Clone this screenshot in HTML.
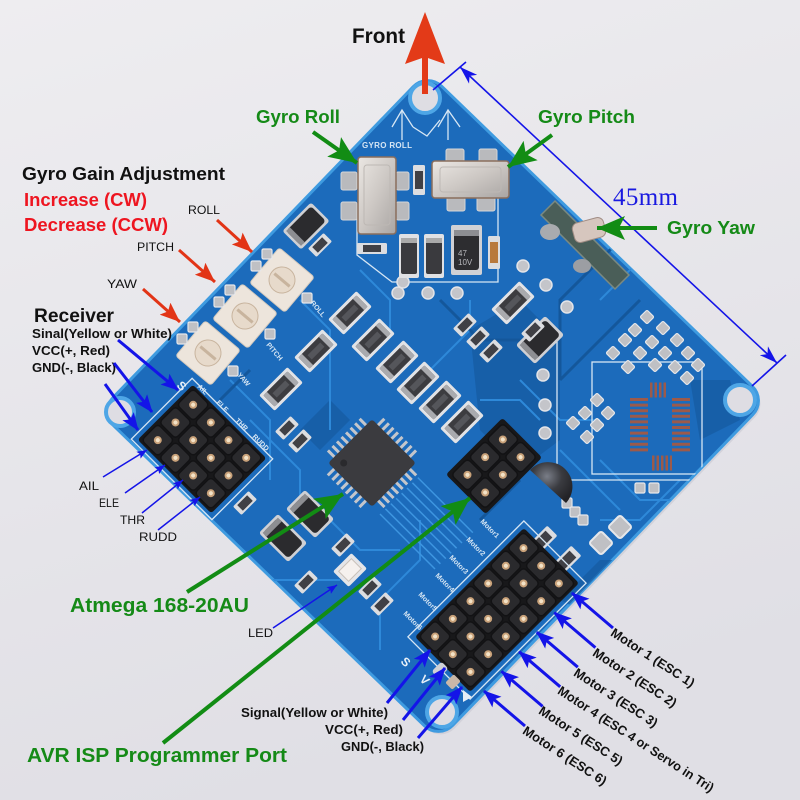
<!DOCTYPE html>
<html><head><meta charset="utf-8">
<style>html,body{margin:0;padding:0;background:#e8e7eb;}svg{display:block}</style>
</head><body>
<svg width="800" height="800" viewBox="0 0 800 800" xmlns="http://www.w3.org/2000/svg">
<defs>
<linearGradient id="bg" x1="0" y1="0" x2="0.3" y2="1"><stop offset="0" stop-color="#eeedf0"/><stop offset="1" stop-color="#e0dfe5"/></linearGradient>
<linearGradient id="silver" x1="0" y1="0" x2="1" y2="1"><stop offset="0" stop-color="#ebe7e3"/><stop offset="0.5" stop-color="#cdc8c4"/><stop offset="1" stop-color="#a9a5a3"/></linearGradient>
<radialGradient id="reg" cx="0.4" cy="0.35" r="0.7"><stop offset="0" stop-color="#7a7e88"/><stop offset="0.5" stop-color="#3a3b40"/><stop offset="1" stop-color="#222226"/></radialGradient>
<clipPath id="bclip"><rect x="-236" y="-236" width="472" height="472" rx="20" transform="translate(433,406) rotate(44)"/></clipPath>
<marker id="bh" viewBox="0 0 18 14" refX="17" refY="7" markerWidth="18" markerHeight="14" orient="auto" markerUnits="userSpaceOnUse"><path d="M0,0 L18,7 L0,14 L4,7z" fill="#1414e8"/></marker>
<marker id="bs" viewBox="0 0 10 8" refX="10" refY="4" markerWidth="10" markerHeight="8" orient="auto" markerUnits="userSpaceOnUse"><path d="M0,0 L10,4 L0,8 L2,4z" fill="#1414e8"/></marker>
<marker id="rh" viewBox="0 0 20 16" refX="20" refY="8" markerWidth="20" markerHeight="16" orient="auto" markerUnits="userSpaceOnUse"><path d="M0,0 L20,8 L0,16 L4,8z" fill="#e23416"/></marker>
<marker id="gh" viewBox="0 0 28 24" refX="28" refY="12" markerWidth="28" markerHeight="24" orient="auto" markerUnits="userSpaceOnUse"><path d="M0,0 L28,12 L0,24 L6,12z" fill="#128c14"/></marker>
<marker id="dh" viewBox="0 0 18 12" refX="18" refY="6" markerWidth="18" markerHeight="12" orient="auto-start-reverse" markerUnits="userSpaceOnUse"><path d="M0,0 L18,6 L0,12 L5,6z" fill="#1414e8"/></marker>
<g id="pin"><rect x="-11.5" y="-11.5" width="23" height="23" rx="4" fill="#2a2a2d" stroke="#121214" stroke-width="1.5"/><circle r="4" fill="#c9a27a"/><circle r="2" fill="#f3e3c8"/></g>
<g id="smd"><rect x="-20" y="-11" width="40" height="22" rx="2" fill="#e2e3e6"/><rect x="-17" y="-8" width="34" height="16" rx="2" fill="#3c3c40"/><rect x="-17" y="-8" width="5" height="16" fill="#a9aaae"/><rect x="12" y="-8" width="5" height="16" fill="#a9aaae"/><rect x="-9" y="-3" width="18" height="6" fill="#55565b"/></g>
<g id="tant"><rect x="-23" y="-15" width="46" height="30" rx="3" fill="#cfd0d4"/><rect x="-20" y="-12" width="40" height="24" rx="4" fill="#2b2b2e"/><rect x="-20" y="-12" width="6" height="24" fill="#8d8e92"/></g>
<g id="res"><rect x="-11" y="-6" width="22" height="12" rx="1.5" fill="#dcdde0"/><rect x="-7" y="-4" width="14" height="8" fill="#404045"/></g>
<g id="pad"><rect x="-5" y="-5" width="10" height="10" rx="1.5" fill="#bfc0c4" stroke="#e6e7ea" stroke-width="1.2"/></g>
<g id="via"><circle r="6" fill="#c4c5ca" stroke="#e3e4e8" stroke-width="1.5"/></g>
</defs>
<rect width="800" height="800" fill="url(#bg)"/>

<!-- board -->
<rect x="-236" y="-236" width="472" height="472" rx="20" transform="translate(435,409) rotate(44)" fill="#c8c8d2" opacity="0.6"/>
<rect x="-236" y="-236" width="472" height="472" rx="20" transform="translate(433,406) rotate(44)" fill="#1c6bbb" stroke="#3f9be0" stroke-width="3"/>

<g clip-path="url(#bclip)">
 <!-- darker copper areas -->
 <g fill="#155a9f" opacity="0.7">
  <polygon points="470,330 520,300 560,340 560,440 520,470 480,430"/>
  <polygon points="690,380 730,380 740,420 700,440"/>
  <polygon points="560,600 600,560 640,560 600,620"/>
  <polygon points="300,430 330,400 350,420 320,450"/>
 </g>
 <!-- traces -->
 <g fill="none" stroke="#2e89d9" stroke-width="2">
  <path d="M300,300 L330,330 L330,430"/>
  <path d="M470,300 L470,330 L430,370"/>
  <path d="M520,380 L560,420 L600,420"/>
  <path d="M250,420 L300,470 L300,500"/>
  <path d="M420,520 L420,560 L380,600 L380,650"/>
  <path d="M600,300 L640,260"/>
  <path d="M560,450 L620,510"/>
  <path d="M230,380 L270,420 L270,480"/>
  <path d="M330,520 L360,550 L400,550"/>
  <path d="M480,400 L520,400 L540,420"/>
  <path d="M200,520 L260,580 L340,580"/>
  <path d="M680,480 L640,520 L600,520"/>
  <path d="M360,270 L390,300 L390,330"/>
  <path d="M600,460 L640,500 L680,500"/>
 </g>
 <g fill="none" stroke="#14579b" stroke-width="3">
  <path d="M440,300 L480,340 L520,340"/>
  <path d="M560,380 L600,340 L640,300"/>
  <path d="M480,520 L520,480"/>
  <path d="M220,400 L250,370"/>
  <path d="M560,380 L560,300 L620,240"/>
 </g>
 <!-- bundle of traces from chip -->
 <g stroke="#3d95e0" stroke-width="1.5">
  <line x1="380" y1="514" x2="435" y2="569"/><line x1="385.4" y1="508.8" x2="440.4" y2="563.8"/>
  <line x1="390.8" y1="503.6" x2="445.8" y2="558.6"/><line x1="396.2" y1="498.4" x2="451.2" y2="553.4"/>
  <line x1="401.6" y1="493.2" x2="456.6" y2="548.2"/><line x1="407" y1="488" x2="462" y2="543"/>
  <line x1="412.4" y1="482.8" x2="467.4" y2="537.8"/><line x1="417.8" y1="477.6" x2="472.8" y2="532.6"/>
 </g>
 <!-- silkscreen -->
 <g fill="none" stroke="#d6e6f4" stroke-width="1.3">
  <polyline points="392,127 402,110 413,127"/><line x1="402" y1="110" x2="402" y2="140"/>
  <polyline points="438,127 448,110 460,127"/><line x1="448" y1="110" x2="448" y2="140"/>
  <polyline points="413,127 427,136 440,120"/>
  <polyline points="357,215 357,255 392,282 498,282 498,190"/>
  <rect x="592" y="362" width="110" height="112"/>
  <polyline points="557,330 557,480 700,480"/>
 </g>
 <text x="362" y="148" font-family="Liberation Sans, sans-serif" font-size="8" font-weight="bold" fill="#d6e6f4" textLength="50">GYRO ROLL</text>
 <!-- vias -->
 <use href="#via" x="398" y="293"/><use href="#via" x="428" y="293"/><use href="#via" x="457" y="293"/>
 <use href="#via" x="523" y="266"/><use href="#via" x="546" y="285"/><use href="#via" x="567" y="307"/>
 <use href="#via" x="543" y="375"/><use href="#via" x="545" y="405"/><use href="#via" x="545" y="433"/>
 <use href="#via" x="403" y="282"/>
</g>

<!-- mounting holes -->
<g fill="#dedde3" stroke="#4ea6e6" stroke-width="4">
 <circle cx="425" cy="98" r="15"/>
 <circle cx="740" cy="400" r="15"/>
 <circle cx="442" cy="712" r="15"/>
 <circle cx="120" cy="412" r="14"/>
</g>

<!-- gyro roll -->
<g fill="#b9babd" stroke="#d5d6d8" stroke-width="1">
 <rect x="341" y="172" width="16" height="18" rx="2"/><rect x="341" y="202" width="16" height="18" rx="2"/>
 <rect x="396" y="172" width="13" height="18" rx="2"/><rect x="396" y="202" width="13" height="18" rx="2"/>
</g>
<rect x="358" y="157" width="38" height="77" rx="3" fill="url(#silver)" stroke="#8a6e5c" stroke-width="1.5"/>
<rect x="364" y="165" width="26" height="60" rx="3" fill="none" stroke="#bdb8b4" stroke-width="1"/>
<!-- gyro pitch -->
<g fill="#b9babd" stroke="#d5d6d8" stroke-width="1">
 <rect x="446" y="149" width="18" height="14" rx="2"/><rect x="479" y="149" width="18" height="14" rx="2"/>
 <rect x="447" y="197" width="18" height="14" rx="2"/><rect x="477" y="197" width="18" height="14" rx="2"/>
</g>
<rect x="432" y="161" width="77" height="37" rx="3" fill="url(#silver)" stroke="#8a6e5c" stroke-width="1.5"/>
<rect x="440" y="167" width="61" height="25" rx="3" fill="none" stroke="#bdb8b4" stroke-width="1"/>
<!-- small resistors near crystals -->
<rect x="413" y="165" width="12" height="30" rx="1.5" fill="#dcdde0"/><rect x="415" y="171" width="8" height="18" fill="#404045"/>
<rect x="357" y="243" width="30" height="11" rx="1.5" fill="#dcdde0"/><rect x="363" y="245" width="18" height="7" fill="#404045"/>
<rect x="488" y="236" width="12" height="33" rx="1.5" fill="#dcdde0"/><rect x="490" y="242" width="8" height="21" fill="#b8793c"/>

<!-- C473 pair -->
<rect x="399" y="234" width="20" height="44" rx="2" fill="#e0e1e4"/><rect x="401" y="238" width="16" height="36" rx="2" fill="#3a3a3e"/><rect x="401" y="238" width="16" height="5" fill="#aaa"/>
<rect x="424" y="234" width="20" height="44" rx="2" fill="#e0e1e4"/><rect x="426" y="238" width="16" height="36" rx="2" fill="#3a3a3e"/><rect x="426" y="238" width="16" height="5" fill="#aaa"/>
<!-- tantalum T2 vertical -->
<rect x="451" y="225" width="31" height="50" rx="2" fill="#d0d1d5"/><rect x="454" y="230" width="25" height="40" rx="3" fill="#2d2d30"/><rect x="454" y="230" width="25" height="6" fill="#8d8e92"/>
<text x="458" y="256" font-family="Liberation Sans, sans-serif" font-size="8" fill="#b8b8bc">47</text>
<text x="458" y="265" font-family="Liberation Sans, sans-serif" font-size="8" fill="#b8b8bc">10V</text>

<!-- tantalums rotated -->
<use href="#tant" transform="translate(306,226) rotate(-45) scale(0.88)"/>
<use href="#tant" transform="translate(540,340) rotate(-45) scale(0.9)"/>
<use href="#tant" transform="translate(283,538) rotate(45) scale(0.9)"/>
<use href="#tant" transform="translate(310,514) rotate(45) scale(0.9)"/>

<!-- smd caps -->
<use href="#smd" transform="translate(350,313) rotate(-45)"/>
<use href="#smd" transform="translate(316,351) rotate(-45)"/>
<use href="#smd" transform="translate(281,389) rotate(-45)"/>
<use href="#smd" transform="translate(373,340) rotate(-45)"/>
<use href="#smd" transform="translate(397,362) rotate(-45)"/>
<use href="#smd" transform="translate(418,383) rotate(-45)"/>
<use href="#smd" transform="translate(440,402) rotate(-45)"/>
<use href="#smd" transform="translate(462,422) rotate(-45)"/>
<use href="#smd" transform="translate(513,303) rotate(-45)"/>

<!-- small resistors -->
<use href="#res" transform="translate(320,245) rotate(-45)"/>
<use href="#res" transform="translate(465,325) rotate(-45)"/>
<use href="#res" transform="translate(478,338) rotate(-45)"/>
<use href="#res" transform="translate(491,351) rotate(-45)"/>
<use href="#res" transform="translate(287,428) rotate(-45)"/>
<use href="#res" transform="translate(300,441) rotate(-45)"/>
<use href="#res" transform="translate(245,503) rotate(-45)"/>
<use href="#res" transform="translate(343,545) rotate(-45)"/>
<use href="#res" transform="translate(306,582) rotate(-45)"/>
<use href="#res" transform="translate(370,588) rotate(-45)"/>
<use href="#res" transform="translate(382,604) rotate(-45)"/>
<use href="#res" transform="translate(543,540) rotate(-45) scale(1.2)"/>
<use href="#res" transform="translate(567,560) rotate(-45) scale(1.2)"/>
<use href="#res" transform="translate(533,330) rotate(-45)"/>
<!-- LED -->
<g transform="translate(350,570) rotate(-45)"><rect x="-13" y="-11" width="26" height="22" rx="2" fill="#e4e5e8"/><rect x="-9" y="-7" width="18" height="14" fill="#f5f1ee" stroke="#c8c0b8"/></g>

<!-- pots -->
<g transform="translate(282,280) rotate(40)"><rect x="-23" y="-23" width="46" height="46" rx="3" fill="#ede5dc" stroke="#d4cabe"/><circle r="13" fill="#e7dacb" stroke="#c8b49e"/><line x1="-10" y1="0" x2="10" y2="0" stroke="#c8b49e" stroke-width="3"/></g>
<g transform="translate(245,316) rotate(40)"><rect x="-23" y="-23" width="46" height="46" rx="3" fill="#ede5dc" stroke="#d4cabe"/><circle r="13" fill="#e7dacb" stroke="#c8b49e"/><line x1="-10" y1="0" x2="10" y2="0" stroke="#c8b49e" stroke-width="3"/></g>
<g transform="translate(208,353) rotate(40)"><rect x="-23" y="-23" width="46" height="46" rx="3" fill="#ede5dc" stroke="#d4cabe"/><circle r="13" fill="#e7dacb" stroke="#c8b49e"/><line x1="-10" y1="0" x2="10" y2="0" stroke="#c8b49e" stroke-width="3"/></g>
<use href="#pad" x="267" y="254"/><use href="#pad" x="256" y="266"/><use href="#pad" x="307" y="298"/>
<use href="#pad" x="230" y="290"/><use href="#pad" x="219" y="302"/><use href="#pad" x="270" y="334"/>
<use href="#pad" x="193" y="327"/><use href="#pad" x="182" y="339"/><use href="#pad" x="233" y="371"/>
<g font-family="Liberation Sans, sans-serif" font-size="7" font-weight="bold" fill="#d6e6f4">
 <text transform="translate(310,303) rotate(50)">ROLL</text>
 <text transform="translate(266,345) rotate(50)">PITCH</text>
 <text transform="translate(237,375) rotate(50)">YAW</text>
</g>

<!-- chip -->
<g transform="translate(372,463) rotate(45)">
 <g stroke="#c4c6cb" stroke-width="10" stroke-dasharray="3 3.4">
  <line x1="-24" y1="-35" x2="24" y2="-35"/><line x1="-24" y1="35" x2="24" y2="35"/>
  <line x1="-35" y1="-24" x2="-35" y2="24"/><line x1="35" y1="-24" x2="35" y2="24"/>
 </g>
 <rect x="-31" y="-31" width="62" height="62" rx="3" fill="#3b3b3f"/>
 <circle cx="-20" cy="20" r="3.5" fill="#2a2a2d"/>
</g>

<!-- right area U2 -->
<g stroke="#9c5a4a">
 <line x1="639" y1="398" x2="639" y2="454" stroke-width="18" stroke-dasharray="3 2.6"/>
 <line x1="681" y1="398" x2="681" y2="454" stroke-width="18" stroke-dasharray="3 2.6"/>
 <line x1="650" y1="390" x2="668" y2="390" stroke-width="15" stroke-dasharray="2.5 2"/>
 <line x1="652" y1="463" x2="672" y2="463" stroke-width="15" stroke-dasharray="2.5 2"/>
</g>
<g>
 <use href="#pad" transform="translate(647,317) rotate(45)"/><use href="#pad" transform="translate(635,330) rotate(45)"/><use href="#pad" transform="translate(625,340) rotate(45)"/><use href="#pad" transform="translate(613,353) rotate(45)"/>
 <use href="#pad" transform="translate(663,328) rotate(45)"/><use href="#pad" transform="translate(652,342) rotate(45)"/><use href="#pad" transform="translate(640,353) rotate(45)"/><use href="#pad" transform="translate(628,367) rotate(45)"/>
 <use href="#pad" transform="translate(677,340) rotate(45)"/><use href="#pad" transform="translate(665,353) rotate(45)"/><use href="#pad" transform="translate(655,365) rotate(45)"/>
 <use href="#pad" transform="translate(688,353) rotate(45)"/><use href="#pad" transform="translate(675,367) rotate(45)"/><use href="#pad" transform="translate(698,365) rotate(45)"/><use href="#pad" transform="translate(687,378) rotate(45)"/>
 <use href="#pad" transform="translate(597,400) rotate(45)"/><use href="#pad" transform="translate(585,413) rotate(45)"/><use href="#pad" transform="translate(573,423) rotate(45)"/>
 <use href="#pad" transform="translate(608,413) rotate(45)"/><use href="#pad" transform="translate(597,425) rotate(45)"/><use href="#pad" transform="translate(587,437) rotate(45)"/>
 <use href="#pad" x="640" y="488"/><use href="#pad" x="654" y="488"/>
 <use href="#pad" transform="translate(601,543) rotate(45) scale(1.7)"/><use href="#pad" transform="translate(620,527) rotate(45) scale(1.7)"/>
 <use href="#pad" x="567" y="503"/><use href="#pad" x="575" y="512"/><use href="#pad" x="583" y="520"/>
</g>

<!-- regulator -->
<path d="M530,470 A23,23 0 1 1 566,503 Z" fill="url(#reg)"/>

<!-- receiver header -->
<g transform="translate(202,449) rotate(45)">
 <rect x="-57" y="-43" width="114" height="86" fill="none" stroke="#d6e6f4" stroke-width="1.3"/>
 <rect x="-52" y="-39" width="104" height="78" rx="3" fill="#18181a"/>
 <use href="#pin" x="-37.5" y="-25"/><use href="#pin" x="-12.5" y="-25"/><use href="#pin" x="12.5" y="-25"/><use href="#pin" x="37.5" y="-25"/>
 <use href="#pin" x="-37.5" y="0"/><use href="#pin" x="-12.5" y="0"/><use href="#pin" x="12.5" y="0"/><use href="#pin" x="37.5" y="0"/>
 <use href="#pin" x="-37.5" y="25"/><use href="#pin" x="-12.5" y="25"/><use href="#pin" x="12.5" y="25"/><use href="#pin" x="37.5" y="25"/>
</g>
<g font-family="Liberation Sans, sans-serif" font-size="7" font-weight="bold" fill="#d6e6f4">
 <text transform="translate(197,387) rotate(45)">AIL</text>
 <text transform="translate(216,403) rotate(45)">ELE</text>
 <text transform="translate(235,421) rotate(45)">THR</text>
 <text transform="translate(252,437) rotate(45)">RUDD</text>
</g>
<text transform="translate(176,386) rotate(45)" font-family="Liberation Sans, sans-serif" font-size="12" font-weight="bold" fill="#e8f0f8">S</text>

<!-- ISP header -->
<g transform="translate(494,466) rotate(45)">
 <rect x="-28" y="-40" width="56" height="80" rx="3" fill="#18181a"/>
 <use href="#pin" x="-12.5" y="-25"/><use href="#pin" x="12.5" y="-25"/>
 <use href="#pin" x="-12.5" y="0"/><use href="#pin" x="12.5" y="0"/>
 <use href="#pin" x="-12.5" y="25"/><use href="#pin" x="12.5" y="25"/>
</g>

<!-- motor header -->
<g transform="translate(497,610) rotate(45)">
 <rect x="-44" y="-82" width="88" height="164" fill="none" stroke="#d6e6f4" stroke-width="1.3"/>
 <rect x="-39" y="-77" width="78" height="154" rx="3" fill="#18181a"/>
 <use href="#pin" x="-25" y="-62.5"/><use href="#pin" x="0" y="-62.5"/><use href="#pin" x="25" y="-62.5"/>
 <use href="#pin" x="-25" y="-37.5"/><use href="#pin" x="0" y="-37.5"/><use href="#pin" x="25" y="-37.5"/>
 <use href="#pin" x="-25" y="-12.5"/><use href="#pin" x="0" y="-12.5"/><use href="#pin" x="25" y="-12.5"/>
 <use href="#pin" x="-25" y="12.5"/><use href="#pin" x="0" y="12.5"/><use href="#pin" x="25" y="12.5"/>
 <use href="#pin" x="-25" y="37.5"/><use href="#pin" x="0" y="37.5"/><use href="#pin" x="25" y="37.5"/>
 <use href="#pin" x="-25" y="62.5"/><use href="#pin" x="0" y="62.5"/><use href="#pin" x="25" y="62.5"/>
</g>
<g font-family="Liberation Sans, sans-serif" font-size="7" font-weight="bold" fill="#d6e6f4">
 <text transform="translate(480,522) rotate(45)">Motor1</text>
 <text transform="translate(466,540) rotate(45)">Motor2</text>
 <text transform="translate(449,558) rotate(45)">Motor3</text>
 <text transform="translate(435,576) rotate(45)">Motor4</text>
 <text transform="translate(418,595) rotate(45)">Motor5</text>
 <text transform="translate(403,614) rotate(45)">Motor6</text>
</g>
<text transform="translate(400,662) rotate(45)" font-family="Liberation Sans, sans-serif" font-size="12" font-weight="bold" fill="#e8f0f8">S</text>
<text transform="translate(419,680) rotate(45)" font-family="Liberation Sans, sans-serif" font-size="12" font-weight="bold" fill="#e8f0f8">V</text>
<rect x="-7" y="-5" width="14" height="10" rx="3" fill="#d0d1d5" transform="translate(440,670) rotate(-45)"/>
<rect x="-6" y="-5" width="12" height="10" rx="2" fill="#c9b8a8" transform="translate(453,682) rotate(-45)"/>
<polygon points="463,690 472,697 463,702" fill="#e6eef6"/>

<!-- gyro yaw -->
<polygon points="555,201 629,275 615,289 541,215" fill="#4a5e58" stroke="#7a8a82" stroke-width="1.5"/>
<ellipse cx="550" cy="232" rx="10" ry="8" fill="#a9abaf"/>
<ellipse cx="582" cy="266" rx="9" ry="7" fill="#9c9ea3"/>
<rect x="-16" y="-10" width="32" height="20" rx="6" transform="translate(589,230) rotate(-15)" fill="#d6c6be" stroke="#a08c84"/>

<!-- ===== annotations ===== -->
<!-- Front arrow -->
<rect x="422" y="56" width="6" height="38" fill="#e33a18"/>
<polygon points="405,64 425,12 445,64 425,57" fill="#e33a18"/>
<text x="352" y="43" font-family="Liberation Sans, sans-serif" font-size="21" font-weight="bold" fill="#111" textLength="53" lengthAdjust="spacingAndGlyphs">Front</text>

<!-- dimension -->
<g stroke="#1414e8" stroke-width="1.6">
 <line x1="433" y1="90" x2="466" y2="62"/>
 <line x1="752" y1="386" x2="786" y2="355"/>
 <line x1="460" y1="67" x2="777" y2="363" marker-start="url(#dh)" marker-end="url(#dh)"/>
</g>
<text x="613" y="205" font-family="Liberation Serif, serif" font-size="25" fill="#1a1ae0" textLength="65" lengthAdjust="spacing">45mm</text>

<!-- green labels -->
<g font-family="Liberation Sans, sans-serif" font-weight="bold" fill="#158a17">
 <text x="256" y="123" font-size="18" textLength="84" lengthAdjust="spacingAndGlyphs">Gyro Roll</text>
 <text x="538" y="123" font-size="18" textLength="97" lengthAdjust="spacingAndGlyphs">Gyro Pitch</text>
 <text x="667" y="234" font-size="18" textLength="88" lengthAdjust="spacingAndGlyphs">Gyro Yaw</text>
 <text x="70" y="612" font-size="20" textLength="179" lengthAdjust="spacingAndGlyphs">Atmega 168-20AU</text>
 <text x="27" y="762" font-size="20" textLength="260" lengthAdjust="spacingAndGlyphs">AVR ISP Programmer Port</text>
</g>
<g stroke="#128c14" stroke-width="4">
 <line x1="313" y1="132" x2="357" y2="163" marker-end="url(#gh)"/>
 <line x1="552" y1="135" x2="508" y2="167" marker-end="url(#gh)"/>
 <line x1="657" y1="228" x2="597" y2="228" marker-end="url(#gh)"/>
 <line x1="187" y1="592" x2="343" y2="494" marker-end="url(#gh)"/>
 <line x1="163" y1="743" x2="470" y2="498" marker-end="url(#gh)"/>
</g>

<!-- gain adjustment -->
<g font-family="Liberation Sans, sans-serif" font-weight="bold">
 <text x="22" y="180" font-size="18" fill="#111" textLength="203" lengthAdjust="spacingAndGlyphs">Gyro Gain Adjustment</text>
 <text x="24" y="206" font-size="18" fill="#ee1520" textLength="123" lengthAdjust="spacingAndGlyphs">Increase (CW)</text>
 <text x="24" y="231" font-size="18" fill="#ee1520" textLength="144" lengthAdjust="spacingAndGlyphs">Decrease (CCW)</text>
 <text x="34" y="322" font-size="19" fill="#111" textLength="80" lengthAdjust="spacingAndGlyphs">Receiver</text>
 <text x="32" y="338" font-size="13" fill="#111" textLength="140" lengthAdjust="spacingAndGlyphs">Sinal(Yellow or White)</text>
 <text x="32" y="355" font-size="13" fill="#111" textLength="78" lengthAdjust="spacingAndGlyphs">VCC(+, Red)</text>
 <text x="32" y="372" font-size="13" fill="#111" textLength="84" lengthAdjust="spacingAndGlyphs">GND(-, Black)</text>
 <text x="241" y="717" font-size="13" fill="#111" textLength="147" lengthAdjust="spacingAndGlyphs">Signal(Yellow or White)</text>
 <text x="325" y="734" font-size="13" fill="#111" textLength="78" lengthAdjust="spacingAndGlyphs">VCC(+, Red)</text>
 <text x="341" y="751" font-size="13" fill="#111" textLength="83" lengthAdjust="spacingAndGlyphs">GND(-, Black)</text>
</g>
<g font-family="Liberation Sans, sans-serif" font-size="12" fill="#111">
 <text x="188" y="214" textLength="32" lengthAdjust="spacingAndGlyphs">ROLL</text>
 <text x="137" y="251" textLength="37" lengthAdjust="spacingAndGlyphs">PITCH</text>
 <text x="107" y="288" textLength="30" lengthAdjust="spacingAndGlyphs">YAW</text>
 <text x="79" y="490" textLength="20" lengthAdjust="spacingAndGlyphs">AIL</text>
 <text x="99" y="507" textLength="20" lengthAdjust="spacingAndGlyphs">ELE</text>
 <text x="120" y="524" textLength="25" lengthAdjust="spacingAndGlyphs">THR</text>
 <text x="139" y="541" textLength="38" lengthAdjust="spacingAndGlyphs">RUDD</text>
 <text x="248" y="637" textLength="25" lengthAdjust="spacingAndGlyphs">LED</text>
</g>

<!-- red arrows -->
<g stroke="#e23416" stroke-width="3">
 <line x1="217" y1="220" x2="252" y2="252" marker-end="url(#rh)"/>
 <line x1="179" y1="250" x2="215" y2="282" marker-end="url(#rh)"/>
 <line x1="143" y1="289" x2="180" y2="322" marker-end="url(#rh)"/>
</g>

<!-- blue arrows -->
<g stroke="#1414e8" stroke-width="3">
 <line x1="118" y1="340" x2="178" y2="390" marker-end="url(#bh)"/>
 <line x1="114" y1="363" x2="152" y2="412" marker-end="url(#bh)"/>
 <line x1="105" y1="384" x2="138" y2="430" marker-end="url(#bh)"/>
 <line x1="387" y1="703" x2="430" y2="650" marker-end="url(#bh)"/>
 <line x1="403" y1="720" x2="445" y2="668" marker-end="url(#bh)"/>
 <line x1="418" y1="738" x2="462" y2="687" marker-end="url(#bh)"/>
 <line x1="613" y1="628" x2="572" y2="593" marker-end="url(#bh)"/>
 <line x1="595.4" y1="647.6" x2="554.4" y2="612.6" marker-end="url(#bh)"/>
 <line x1="577.8" y1="667.2" x2="536.8" y2="632.2" marker-end="url(#bh)"/>
 <line x1="560.2" y1="686.8" x2="519.2" y2="651.8" marker-end="url(#bh)"/>
 <line x1="542.6" y1="706.4" x2="501.6" y2="671.4" marker-end="url(#bh)"/>
 <line x1="525" y1="726" x2="484" y2="691" marker-end="url(#bh)"/>
</g>
<g stroke="#1414e8" stroke-width="1.5">
 <line x1="103" y1="477" x2="147" y2="450" marker-end="url(#bs)"/>
 <line x1="125" y1="493" x2="165" y2="465" marker-end="url(#bs)"/>
 <line x1="142" y1="513" x2="183" y2="480" marker-end="url(#bs)"/>
 <line x1="158" y1="530" x2="200" y2="497" marker-end="url(#bs)"/>
 <line x1="273" y1="628" x2="337" y2="585" marker-end="url(#bs)"/>
</g>

<!-- motor labels -->
<g font-family="Liberation Sans, sans-serif" font-size="13" font-weight="bold" fill="#111">
 <text transform="translate(609.8,635) rotate(33)" textLength="97" lengthAdjust="spacingAndGlyphs">Motor 1 (ESC 1)</text>
 <text transform="translate(591.8,655) rotate(33)" textLength="97" lengthAdjust="spacingAndGlyphs">Motor 2 (ESC 2)</text>
 <text transform="translate(572.8,675) rotate(33)" textLength="97" lengthAdjust="spacingAndGlyphs">Motor 3 (ESC 3)</text>
 <text transform="translate(556.8,693) rotate(33)" textLength="183" lengthAdjust="spacingAndGlyphs">Motor 4 (ESC 4 or Servo in Tri)</text>
 <text transform="translate(537.8,713) rotate(33)" textLength="97" lengthAdjust="spacingAndGlyphs">Motor 5 (ESC 5)</text>
 <text transform="translate(521.8,733) rotate(33)" textLength="97" lengthAdjust="spacingAndGlyphs">Motor 6 (ESC 6)</text>
</g>
</svg>
</body></html>
